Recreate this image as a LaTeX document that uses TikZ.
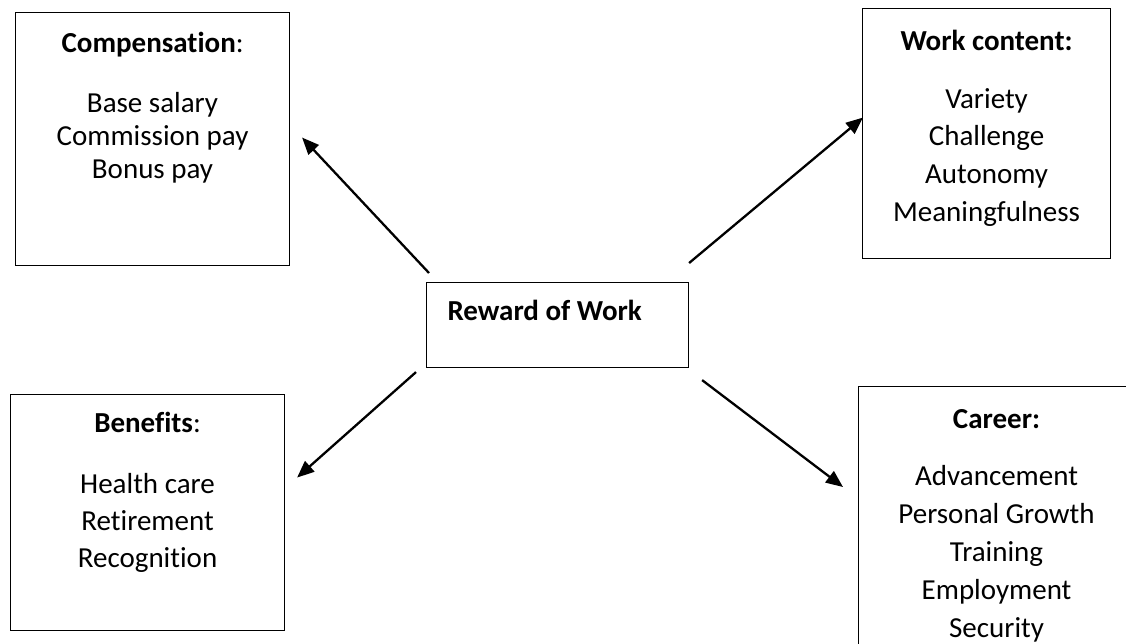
\documentclass[tikz,border=0pt]{standalone}
\usepackage{fontspec}
\setmainfont[Ligatures={NoCommon}]{Carlito}
\usetikzlibrary{arrows.meta,calc}

% Box with a bold heading and a centred list underneath.
% #1 width, #2 height, #3 skip between list lines, #4 heading baseline
% below the top, #5 extra gap after heading, #6 heading, #7 list
\newcommand{\listbox}[7]{%
  \parbox[c][#2][t]{#1}{\centering
    \fontsize{29pt}{#3}\selectfont
    \rule{0pt}{#4}#6\\[#5]#7\par}}

\tikzset{
  panel/.style={draw, line width=1.1pt, inner sep=0pt, anchor=north west},
  link/.style={line width=2.3pt, -{Triangle[length=17pt,width=14pt]}}
}

\begin{document}
\begin{tikzpicture}[x=1pt,y=-1pt]
  \useasboundingbox (0,0) rectangle (1126,643);
  \clip (0,0) rectangle (1126,643);

  % centre box
  \node[panel] (reward) at (426,282)
    {\parbox[c][85pt][t]{262pt}{\fontsize{29pt}{33pt}\selectfont
      \hspace*{21pt}\rule{0pt}{38pt}\textbf{Reward of Work}\par}};

  % the four categories
  \node[panel] (comp) at (15,12)
    {\listbox{274pt}{253pt}{33pt}{40pt}{27pt}{\textbf{Compensation}:}
      {Base salary\\ Commission pay\\ Bonus pay}};

  \node[panel] (work) at (862,8)
    {\listbox{248pt}{250pt}{37.7pt}{42pt}{20pt}{\textbf{Work content:}}
      {Variety\\ Challenge\\ Autonomy\\ Meaningfulness}};

  \node[panel] (ben) at (10,394)
    {\listbox{274pt}{236pt}{37pt}{38pt}{24pt}{\textbf{Benefits}:}
      {Health care\\ Retirement\\ Recognition}};

  \node[panel] (career) at (858,386)
    {\listbox{276pt}{300pt}{38pt}{42pt}{19pt}{\textbf{Career:}}
      {Advancement\\ Personal Growth\\ Training\\ Employment\\ Security}};

  % connectors from the centre box
  \draw[link] ($(reward.north west)+(3,-9)$) -- ($(comp.east)+(12,-1.5)$);
  \draw[link] ($(reward.north east)+(0,-19)$) -- ($(work.west)+(1,-16)$);
  \draw[link] ($(reward.south west)+(-10,4)$) -- ($(ben.east)+(12,-35)$);
  \draw[link] ($(reward.south east)+(13,12)$) -- ($(career.north west)+(-15,101)$);
\end{tikzpicture}
\end{document}
